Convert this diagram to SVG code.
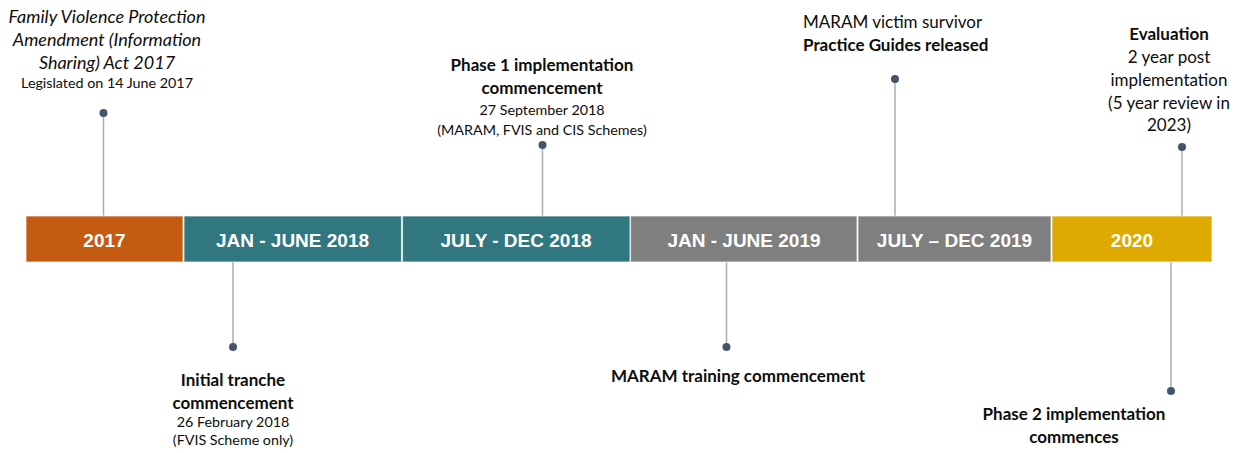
<svg xmlns="http://www.w3.org/2000/svg" width="1240" height="453" viewBox="0 0 1240 453">
  <style>
    .seg { stroke: #ffffff; stroke-opacity: 0.6; stroke-width: 1.2; }
    .barlbl { font-family: "Liberation Sans", Arial, sans-serif; font-weight: bold; font-size: 19px; fill: #ffffff; text-anchor: middle; }
    .t { font-family: Lato, "Liberation Sans", sans-serif; fill: #0d0d0d; text-anchor: middle; }
    .b { font-weight: bold; font-size: 17px; }
    .r { font-size: 17px; }
    .s { font-size: 14.3px; }
    .i { font-style: italic; font-size: 18px; }
    .conn line { stroke: #A7AEB4; stroke-width: 1.5; }
    .dot { fill: #44546A; }
  </style>
  <rect width="1240" height="453" fill="#ffffff"/>

  <g id="connectors" class="conn">
    <line x1="103.5" y1="113" x2="103.5" y2="216"/>
    <line x1="233" y1="262" x2="233" y2="347"/>
    <line x1="542.5" y1="145" x2="542.5" y2="216"/>
    <line x1="726.5" y1="262" x2="726.5" y2="347"/>
    <line x1="895" y1="79" x2="895" y2="216"/>
    <line x1="1182" y1="147" x2="1182" y2="216"/>
    <line x1="1171" y1="262" x2="1171" y2="391"/>
  </g>

  <g id="seg-2017">
    <rect class="seg" x="26" y="216" width="157" height="46" fill="#C55A11"/>
    <text class="barlbl" x="104.5" y="246.5">2017</text>
  </g>
  <g id="seg-jan-jun-2018">
    <rect class="seg" x="184" y="216" width="217.5" height="46" fill="#31777F"/>
    <text class="barlbl" x="292.5" y="246.5">JAN - JUNE 2018</text>
  </g>
  <g id="seg-jul-dec-2018">
    <rect class="seg" x="402.5" y="216" width="227.5" height="46" fill="#31777F"/>
    <text class="barlbl" x="516" y="246.5">JULY - DEC 2018</text>
  </g>
  <g id="seg-jan-jun-2019">
    <rect class="seg" x="630.5" y="216" width="226.5" height="46" fill="#7F7F7F"/>
    <text class="barlbl" x="744" y="246.5">JAN - JUNE 2019</text>
  </g>
  <g id="seg-jul-dec-2019">
    <rect class="seg" x="858" y="216" width="193" height="46" fill="#7F7F7F"/>
    <text class="barlbl" x="954.5" y="246.5">JULY – DEC 2019</text>
  </g>
  <g id="seg-2020">
    <rect class="seg" x="1052" y="216" width="160" height="46" fill="#DEA900"/>
    <text class="barlbl" x="1132" y="246.5">2020</text>
  </g>

  <g id="m-act-2017">
    <circle class="dot" cx="103.5" cy="113" r="4"/>
    <text class="t i" x="107" y="23">Family Violence Protection</text>
    <text class="t i" x="107" y="46">Amendment (Information</text>
    <text class="t i" x="107" y="69">Sharing) Act 2017</text>
    <text class="t s" x="107" y="88">Legislated on 14 June 2017</text>
  </g>

  <g id="m-initial-tranche">
    <circle class="dot" cx="233" cy="347" r="4"/>
    <text class="t b" x="233" y="386">Initial tranche</text>
    <text class="t b" x="233" y="409">commencement</text>
    <text class="t s" x="233" y="427">26 February 2018</text>
    <text class="t s" x="233" y="445">(FVIS Scheme only)</text>
  </g>

  <g id="m-phase1">
    <circle class="dot" cx="542.5" cy="145" r="4"/>
    <text class="t b" x="542" y="71">Phase 1 implementation</text>
    <text class="t b" x="542" y="94">commencement</text>
    <text class="t s" x="542" y="115">27 September 2018</text>
    <text class="t s" x="542" y="135">(MARAM, FVIS and CIS Schemes)</text>
  </g>

  <g id="m-maram-training">
    <circle class="dot" cx="726.5" cy="347" r="4"/>
    <text class="t b" x="738" y="382">MARAM training commencement</text>
  </g>

  <g id="m-practice-guides">
    <circle class="dot" cx="895" cy="79" r="4"/>
    <text class="t r" x="803" y="28" style="text-anchor:start">MARAM victim survivor</text>
    <text class="t b" x="803" y="51" style="text-anchor:start">Practice Guides released</text>
  </g>

  <g id="m-evaluation">
    <circle class="dot" cx="1182" cy="147" r="4"/>
    <text class="t b" x="1169" y="40">Evaluation</text>
    <text class="t r" x="1169" y="63">2 year post</text>
    <text class="t r" x="1169" y="86">implementation</text>
    <text class="t r" x="1169" y="109">(5 year review in</text>
    <text class="t r" x="1169" y="131">2023)</text>
  </g>

  <g id="m-phase2">
    <circle class="dot" cx="1171" cy="391" r="4"/>
    <text class="t b" x="1074" y="420">Phase 2 implementation</text>
    <text class="t b" x="1074" y="443">commences</text>
  </g>
</svg>
